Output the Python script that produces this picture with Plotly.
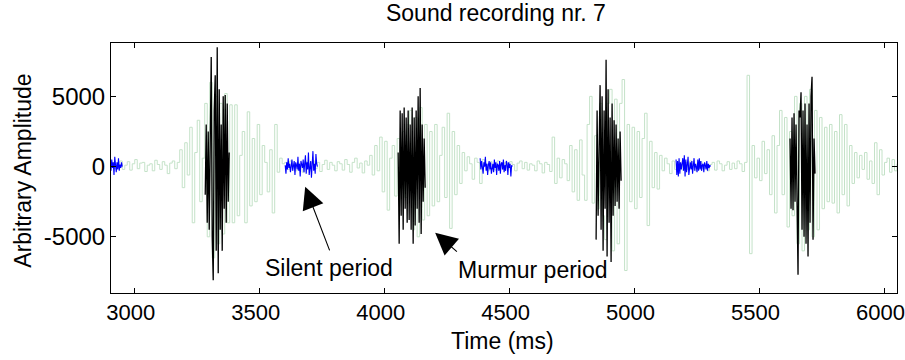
import numpy as np
import plotly.graph_objects as go

# ---------------- data ----------------
# Full recording (light green), 10 ms per sample, starting at 2900 ms
green_start = 2900
green_step = 10
green_vals = [
    150, 300, -100, 250, 400, -200, 100, 350, -250, 200,              # 2900
    500, -150, 250, 300, -350, 100, 200, -300, 450, 150,              # 3000
    -200, 350, 100, -500, 250, 400, -150, 300, 1200, -1500,           # 3100
    1700, -600, 2800, -4000, 1000, 3300, -2500, 600, 4500, -5000,     # 3200
    6000, -6500, 5000, -5500, 4500, -4800, 5200, -4000, 4400, -4000,  # 3300
    4400, -3500, 800, 2500, -4000, 3900, -2800, 2000, -2500, 3000,    # 3400
    -2000, 1500, 300, -1800, 1200, -3300, 3000, -400, 600, 200,       # 3500
    300, -200, 400, 150, -300, 250, 100, -400, 350, -100,             # 3600
    250, 400, -150, 300, -350, 150, 450, -200, 300, 100,              # 3700
    -300, 350, 200, -250, 500, 150, -400, 300, 600, -100,             # 3800
    250, -450, 400, 100, 800, -600, 1500, -300, 2100, -1800,          # 3900
    1800, -3100, 600, 1500, -2100, 2000, -1600, 2500, -2200, 3000,    # 4000
    4000, -4500, 3500, -5000, 4200, -3800, 3000, -3500, 2500, -2800,  # 4100
    3000, -2500, 800, 2800, -2200, 3800, -4400, 2500, -2000, 1500,    # 4200
    -1200, 1000, -300, 700, 200, -900, 600, 300, -1200, 500,          # 4300
    200, -300, 350, 100, -250, 400, 150, -200, 300, -100,             # 4400
    350, 150, -300, 250, 400, -150, 300, -250, 200, 100,              # 4500
    -300, 400, 200, -450, 300, 150, -350, 2100, -1200, 600,           # 4600
    -800, 500, 200, -1000, 1500, -1800, 1200, -2400, 1900, -600,      # 4700
    -2400, 3000, 5000, -2600, 2200, -3000, 4500, -3500, -5200, 4500,  # 4800
    5500, -6000, 4800, -5500, 4500, 6200, -7400, 3000, -2500, 2800,   # 4900
    -3000, 2500, -2200, 2000, 3800, -4200, 1800, -1500, 1000, -1600,  # 5000
    800, -300, 600, 200, -500, 400, -200, 300, 150, -250,             # 5100
    300, -200, 400, 100, -300, 250, 350, -150, 200, -300,             # 5200
    150, 300, -250, 400, 200, -300, 100, 350, -200, 250,              # 5300
    -150, 400, 200, -350, 300, 6500, -6200, 1500, -800, 600,          # 5400
    -1000, 1800, -500, 1200, -2000, 2200, -3300, 1500, 4000, -2000,   # 5500
    3500, -4300, 2500, -3500, 5000, -5500, 4500, -6000, 5000, -4500,  # 5600
    5500, -5000, 4000, -4500, 3500, -3000, 2800, -2500, 3000, -2600,  # 5700
    2500, -3300, 3700, -2000, 3000, -2800, 1500, -1200, 1000, -800,   # 5800
    800, -200, 1000, -900, 400, -1200, 1700, -2000, 1200, -600,       # 5900
    300, 600, -400, 500, -300, 200,                                   # 6000
]

# Heart-sound bursts (black), 4 ms per sample
black_step = 4
black_starts = [3282, 4054, 4846, 5622]
black1 = [-2000, 3000, -4000, 2500, -4500, 5000, 7800, -5000, -8100, 4000, 6500, -6000, 8500,
          -7600, 5500, -4500, 3000, -6000, 5000, -3000, 5100, -4000, 4500, -2500, 1000]
black2 = [1000, -5500, 4000, -3500, 3800, -4500, 4200, -3000, 3500, -4000, 4000, -3800, 3000,
          -4500, 4200, -5500, 3500, -4200, 4000, -3000, 5000, -4000, 5600, -4800, 3000, -2500, 2000, -1500]
black3 = [-5200, 4000, -3500, 3000, 5800, -4500, 5000, -6000, 4000, -3000, 7600, -6400, 5500,
          -4000, 3500, -6800, 4500, -3500, 3300, -2800, 3000, -2500, 2000, -3000, 2500, -1000]
black4 = [2000, -3000, 3500, -3100, 3800, -2500, 3000, -3500, -7700, 4000, 3500, 5300, -4500,
          4000, -5000, 4500, -5500, 3000, -6400, 4500, -4000, 5000, 6400, -5200, 2000, -500]

# Silent periods (blue), 3 ms per sample
blue_step = 3
blue_starts = [2902, 3602, 4382, 5166]
blue1 = [200, -300, 500, -100, 300, -600, 700, 100, -400, 300, -200, 600, -300, 150, -100, 300, 0]
blue2 = [100, -500, 300, -200, 600, -100, 200, -400, 0, 500, -300, 200, 400, -600, 300, 100, -200,
         700, -300, 200, -700, 400, 100, -100, 500, -400, 200, 800, -500, 300, -200, 1000, -600, 100,
         400, -800, 600, 1100, -300, 200, -500, 900, 200, 0]
blue3 = [600, -200, 400, 100, -500, 300, 0, 700, -300, 200, -600, 100, 400, -200, 300, -500, 100,
         200, -400, 500, -100, 300, -600, 200, 100, -300, 400, -500, 200, 300, -200, 500, -400, 100,
         -300, 400, 200, -600, 300, -100, 200, -700, 100, 0]
blue4 = [500, -600, 400, -700, 600, -500, 300, -200, 200, 600, -300, 800, -700, 500, -400, 300, 700,
         -600, 100, 300, -200, 400, -500, 100, 600, -300, 200, 0, -400, 500, -300, 600, -200, 400,
         -300, 100, 200, -400, 300, 100, -200, 400, -300, 200, -100, 100, 0]

x_ticks = [3000, 3500, 4000, 4500, 5000, 5500, 6000]
y_ticks = [-5000, 0, 5000]

title = "Sound recording nr. 7"
x_title = "Time (ms)"
y_title = "Arbitrary Amplitude"

# ---------------- figure ----------------
FONT = "Liberation Sans, Arial, sans-serif"
fig = go.Figure()

gx = green_start + green_step * np.arange(len(green_vals))
fig.add_trace(go.Scatter(x=gx, y=green_vals, mode="lines", line=dict(color="rgb(196,226,200)", width=1, shape="hv"),
                         hoverinfo="skip", showlegend=False))

for s, vals in zip(blue_starts, [blue1, blue2, blue3, blue4]):
    bx = s + blue_step * np.arange(len(vals))
    fig.add_trace(go.Scatter(x=bx, y=vals, mode="lines", line=dict(color="#0000ff", width=1.1),
                             hoverinfo="skip", showlegend=False))

for s, vals in zip(black_starts, [black1, black2, black3, black4]):
    kx = s + black_step * np.arange(len(vals))
    fig.add_trace(go.Scatter(x=kx, y=vals, mode="lines", line=dict(color="black", width=1.3),
                             hoverinfo="skip", showlegend=False))

axis_common = dict(showline=True, linecolor="black", linewidth=1, mirror="ticks", ticks="inside",
                   ticklen=5, tickcolor="black", showgrid=False, zeroline=False, automargin=False,
                   ticklabeloverflow="allow")

fig.update_xaxes(range=[2905, 6050], tickvals=x_ticks, ticktext=[str(v) for v in x_ticks],
                 ticklabelshift=-4, tickfont=dict(family=FONT, size=22, color="black"), **axis_common)
fig.update_yaxes(range=[-9000, 8800], tickvals=y_ticks, ticktext=[str(v) for v in y_ticks],
                 tickfont=dict(family=FONT, size=24, color="black"), **axis_common)

fig.update_layout(
    width=905, height=360,
    margin=dict(l=111, r=8, t=43, b=67),
    plot_bgcolor="white", paper_bgcolor="white",
    title=dict(text=title, x=0.548, xanchor="center", y=0.964, yanchor="middle", yref="container",
               font=dict(family=FONT, size=23, color="black")),
    font=dict(family=FONT, color="black"),
)

# axis titles as annotations
fig.add_annotation(text=x_title, xref="paper", yref="paper", x=0.498, y=-0.192, yanchor="middle",
                   showarrow=False, font=dict(family=FONT, size=23, color="black"))
fig.add_annotation(text=y_title, xref="paper", yref="paper", x=-0.113, y=0.49, xanchor="center",
                   yanchor="middle", textangle=-90, showarrow=False, font=dict(family=FONT, size=23, color="black"))

# period labels and arrows
fig.add_annotation(text="Silent period", x=3778, y=-7240, xref="x", yref="y", showarrow=False,
                   font=dict(family=FONT, size=23, color="black"))
fig.add_annotation(text="Murmur period", x=4594, y=-7380, xref="x", yref="y", showarrow=False,
                   font=dict(family=FONT, size=23, color="black"))
fig.add_annotation(text="", x=3682, y=-1430, ax=3782, ay=-6070, xref="x", yref="y", axref="x", ayref="y",
                   showarrow=True, arrowhead=2, arrowsize=4, arrowwidth=1.1, arrowcolor="black")
fig.add_annotation(text="", x=4202, y=-4714, ax=4295, ay=-6143, xref="x", yref="y", axref="x", ayref="y",
                   showarrow=True, arrowhead=2, arrowsize=4, arrowwidth=1.1, arrowcolor="black")

fig.write_html("out.html", config={"displayModeBar": False},
               post_script="document.body.style.margin='0px';")
